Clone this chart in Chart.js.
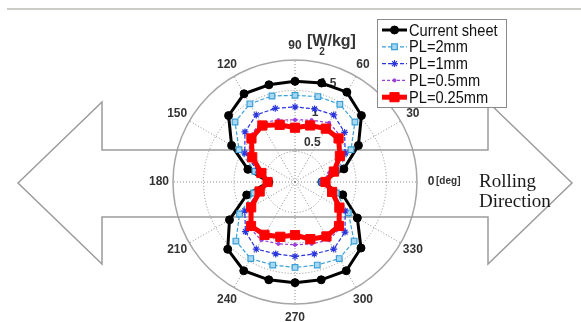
<!DOCTYPE html>
<html>
<head>
<meta charset="utf-8">
<script src="https://cdn.jsdelivr.net/npm/chart.js@4/dist/chart.umd.min.js"></script>
<style>
  html, body { margin: 0; padding: 0; background: #fff; }
  #wrap { position: relative; width: 581px; height: 322px; }
</style>
</head>
<body>
<div id="wrap"><canvas id="polar"></canvas></div>
<script>
// angles of the measured points, counter-clockwise from the rolling direction
const angleDeg = [0, 15, 30, 45, 60, 75, 90, 105, 120, 135, 150, 165,
                  180, 195, 210, 225, 240, 255, 270, 285, 300, 315, 330, 345];
const angleTicks = [0, 30, 60, 90, 120, 150, 180, 210, 240, 270, 300, 330];
const radialTicks = [0.5, 1, 1.5];
const rMax = 2;

// iron loss [W/kg], same order as angleDeg
const currentSheet = [0.44, 0.83, 1.20, 1.54, 1.70, 1.68, 1.65, 1.65, 1.67, 1.54, 1.20, 0.80,
                      0.43, 0.82, 1.24, 1.56, 1.68, 1.66, 1.65, 1.66, 1.68, 1.53, 1.18, 0.81];
const pl2mm   = [0.44, 0.70, 1.06, 1.39, 1.47, 1.45, 1.42, 1.46, 1.48, 1.39, 1.06, 0.68,
                 0.44, 0.70, 1.05, 1.37, 1.45, 1.41, 1.40, 1.41, 1.45, 1.37, 1.01, 0.70];
const pl1mm   = [0.44, 0.62, 0.95, 1.15, 1.27, 1.24, 1.23, 1.25, 1.27, 1.16, 0.95, 0.62,
                 0.44, 0.62, 0.95, 1.15, 1.27, 1.22, 1.22, 1.22, 1.27, 1.16, 0.95, 0.62];
const pl05mm  = [0.44, 0.58, 0.86, 1.06, 1.12, 1.05, 1.02, 1.05, 1.12, 1.06, 0.86, 0.58,
                 0.44, 0.58, 0.86, 1.06, 1.10, 1.05, 1.03, 1.05, 1.10, 1.06, 0.86, 0.58];
const pl025mm = [0.50, 0.66, 0.85, 1.01, 1.01, 0.96, 0.89, 0.97, 1.07, 1.01, 0.81, 0.57,
                 0.45, 0.60, 0.83, 1.02, 1.00, 0.93, 0.87, 0.97, 1.03, 1.02, 0.84, 0.63];

// radar goes clockwise, so walk the angles backwards starting at 0 deg
const n = angleDeg.length;
const cw = angleDeg.map((_, i) => (n - i) % n);
const toChart = arr => cw.map(k => arr[k]);

const labelFont = 'bold 12px "Liberation Sans", Arial, sans-serif';

const backdrop = {
    id: 'backdrop',
    beforeDraw(chart) {
        const ctx = chart.ctx;
        ctx.save();
        ctx.strokeStyle = '#c9cdc5';
        ctx.lineWidth = 2;
        ctx.beginPath();
        ctx.moveTo(7, 9);
        ctx.lineTo(581, 9);
        ctx.stroke();
        ctx.restore();
    },
    beforeDatasetsDraw(chart) {
        const ctx = chart.ctx;
        const scale = chart.scales.r;
        ctx.save();
        // rolling direction double arrow
        ctx.strokeStyle = '#9c9c9c';
        ctx.lineWidth = 1.5;
        ctx.beginPath();
        ctx.moveTo(18, 183);
        ctx.lineTo(102, 102);
        ctx.lineTo(102, 150);
        ctx.lineTo(488, 150);
        ctx.lineTo(488, 102);
        ctx.lineTo(572, 183);
        ctx.lineTo(488, 264);
        ctx.lineTo(488, 217);
        ctx.lineTo(102, 217);
        ctx.lineTo(102, 264);
        ctx.closePath();
        ctx.stroke();

        // radial tick labels along ~75 deg
        ctx.fillStyle = '#333';
        ctx.font = labelFont;
        ctx.textAlign = 'left';
        ctx.textBaseline = 'bottom';
        const a = 75 * Math.PI / 180;
        radialTicks.forEach(v => {
            const d = scale.getDistanceFromCenterForValue(v);
            ctx.fillText(String(v), scale.xCenter + d * Math.cos(a) + 1, scale.yCenter - d * Math.sin(a) - 4);
        });

        // angle labels
        ctx.textAlign = 'center';
        ctx.textBaseline = 'middle';
        const dist = scale.drawingArea * 1.115;
        chart.data.labels.forEach((deg, i) => {
            if (!angleTicks.includes(deg)) return;
            const p = scale.getPointPosition(i, dist);
            ctx.fillText(String(deg), p.x, p.y);
            if (deg === 0) {
                ctx.font = 'bold 10px "Liberation Sans", Arial, sans-serif';
                ctx.textAlign = 'left';
                ctx.fillText('[deg]', p.x + 5, p.y - 1);
                ctx.font = labelFont;
                ctx.textAlign = 'center';
            }
        });

        ctx.font = 'bold 16px "Liberation Sans", Arial, sans-serif';
        ctx.textAlign = 'left';
        ctx.textBaseline = 'alphabetic';
        ctx.fillText('[W/kg]', 307, 46);
        ctx.font = 'bold 10px "Liberation Sans", Arial, sans-serif';
        ctx.textAlign = 'center';
        ctx.textBaseline = 'middle';
        ctx.fillText('2', 322, 52);

        ctx.fillStyle = '#1a1a1a';
        ctx.font = '19px "Liberation Serif", "Times New Roman", serif';
        ctx.textAlign = 'left';
        ctx.fillText('Rolling', 479, 182);
        ctx.fillText('Direction', 479, 202);
        ctx.restore();
    },
    afterDraw(chart) {
        // boxed legend, line + marker samples
        const ctx = chart.ctx;
        const x0 = 377, y0 = 19, w = 129, h = 88;
        ctx.save();
        ctx.fillStyle = '#fff';
        ctx.fillRect(x0, y0, w, h);
        ctx.strokeStyle = '#8a8a8a';
        ctx.lineWidth = 1;
        ctx.strokeRect(x0 + 0.5, y0 + 0.5, w, h);
        chart.data.datasets.forEach((ds, i) => {
            const y = y0 + 11 + i * 16.8;
            ctx.strokeStyle = ds.borderColor;
            ctx.lineWidth = ds.borderWidth;
            ctx.setLineDash(ds.borderDash || []);
            ctx.beginPath();
            ctx.moveTo(382, y);
            ctx.lineTo(407, y);
            ctx.stroke();
            ctx.setLineDash([]);
            ctx.fillStyle = ds.pointBackgroundColor || ds.backgroundColor;
            ctx.strokeStyle = ds.pointBorderColor || ds.borderColor;
            ctx.lineWidth = ds.pointBorderWidth;
            Chart.helpers.drawPoint(ctx, {
                pointStyle: ds.pointStyle, radius: ds.pointRadius,
                rotation: 0, borderWidth: ds.pointBorderWidth
            }, 394.5, y);
            // narrow face: squeeze the sans horizontally
            ctx.save();
            ctx.translate(409, y + 1);
            ctx.scale(0.86, 1);
            ctx.fillStyle = '#111';
            ctx.font = '17px "Liberation Sans", Arial, sans-serif';
            ctx.textAlign = 'left';
            ctx.textBaseline = 'middle';
            ctx.fillText(ds.label, 0, 0);
            ctx.restore();
        });
        ctx.restore();
    }
};

new Chart(document.getElementById('polar'), {
    type: 'radar',
    data: {
        labels: toChart(angleDeg),
        datasets: [
            {
                label: 'Current sheet', data: toChart(currentSheet),
                borderColor: '#000', backgroundColor: '#000', borderWidth: 3,
                pointStyle: 'circle', pointRadius: 4, pointBorderWidth: 1, order: 5
            },
            {
                label: 'PL=2mm', data: toChart(pl2mm),
                borderColor: '#3a9fd6', backgroundColor: '#a8d8f1', borderWidth: 1.2, borderDash: [4, 2],
                pointStyle: 'rect', pointRadius: 4, pointBorderWidth: 1.2,
                pointBorderColor: '#3a9fd6', pointBackgroundColor: '#a8d8f1', order: 4
            },
            {
                label: 'PL=1mm', data: toChart(pl1mm),
                borderColor: '#2a35dc', backgroundColor: '#2a35dc', borderWidth: 1.2, borderDash: [4, 2],
                pointStyle: 'star', pointRadius: 3.5, pointBorderWidth: 1.2, order: 3
            },
            {
                label: 'PL=0.5mm', data: toChart(pl05mm),
                borderColor: '#9b3fd8', backgroundColor: '#9b3fd8', borderWidth: 1.2, borderDash: [3, 2],
                pointStyle: 'circle', pointRadius: 1.6, pointBorderWidth: 1, order: 2
            },
            {
                label: 'PL=0.25mm', data: toChart(pl025mm),
                borderColor: '#ff0000', backgroundColor: '#ff0000', borderWidth: 5,
                pointStyle: 'rect', pointRadius: 6.5, pointBorderWidth: 1, order: 1
            }
        ]
    },
    options: {
        responsive: true,
        maintainAspectRatio: false,
        animation: false,
        layout: { padding: { left: 173, right: 164, top: 60, bottom: 18 } },
        elements: { line: { tension: 0, fill: false } },
        scales: {
            r: {
                min: 0,
                max: rMax,
                startAngle: 90,
                ticks: { stepSize: 0.5, display: false },
                pointLabels: { display: false },
                grid: {
                    circular: true,
                    color: ctx => ctx.tick && ctx.tick.value >= rMax ? '#a6a6a6' : '#8c8c8c',
                    lineWidth: ctx => ctx.tick && ctx.tick.value >= rMax ? 1.5 : 1
                },
                border: {
                    dash: ctx => ctx.tick && ctx.tick.value >= rMax ? [] : [1, 2]
                },
                angleLines: {
                    color: ctx => ctx.index % 2 === 0 ? '#8c8c8c' : 'rgba(0,0,0,0)',
                    borderDash: [1, 2]
                }
            }
        },
        plugins: {
            legend: { display: false },
            tooltip: { enabled: false }
        }
    },
    plugins: [backdrop]
});
</script>
</body>
</html>
